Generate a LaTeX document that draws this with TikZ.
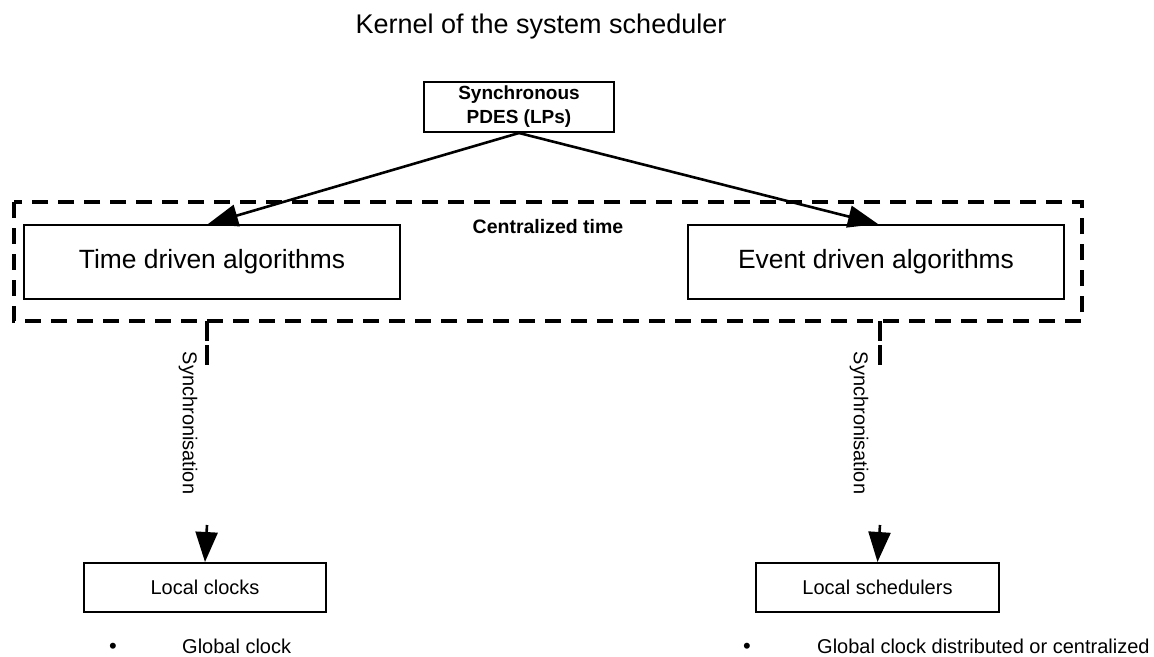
\documentclass[tikz,border=0pt]{standalone}
\usepackage{fontspec}
\setmainfont{Liberation Sans}
\usetikzlibrary{arrows.meta}
\begin{document}
\begin{tikzpicture}[x=1pt,y=-1pt,
  boxs/.style={draw,line width=2pt,inner sep=0pt,anchor=north west},
  arr/.style={line width=2.6pt,-{Triangle[length=30pt,width=22pt]}},
  dsh/.style={line width=3.2pt,dash pattern=on 16pt off 10pt},
  lbl/.style={font=\fontsize{20}{24}\selectfont},
]
\useasboundingbox (0,0) rectangle (1154,656);
\node[font=\fontsize{27}{32}\selectfont,anchor=base,inner sep=0pt] (title) at (541,33) {Kernel of the system scheduler};
\node[boxs,minimum width=190pt,minimum height=50pt,align=center,font=\fontsize{19}{24}\selectfont\bfseries] (pdes) at (423,81) {Synchronous\\PDES (LPs)};
\draw[dsh] (14,202) rectangle (1082,321);
\coordinate (dbl) at (207,321);
\coordinate (dbr) at (880,321);
\node[font=\fontsize{19.5}{24}\selectfont\bfseries] (ct) at (548,227) {Centralized time};
\node[boxs,minimum width=376pt,minimum height=74pt,font=\fontsize{26.4}{30}\selectfont] (tda) at (23,224) {Time driven algorithms};
\node[boxs,minimum width=376pt,minimum height=74pt,font=\fontsize{26.4}{30}\selectfont] (eda) at (687,224) {Event driven algorithms};
\draw[arr] (pdes.south) -- (208,224);
\draw[arr] (pdes.south) -- (878,224);
\node[boxs,minimum width=242pt,minimum height=49pt,lbl] (lc) at (83,562) {Local clocks};
\node[boxs,minimum width=243pt,minimum height=49pt,lbl] (ls) at (755,562) {Local schedulers};
\coordinate (ml) at (207,365);
\coordinate (al) at (207,525);
\coordinate (mr) at (880,365);
\coordinate (ar) at (880,525);
\draw[line width=3.2pt,dash pattern=on 20pt off 4pt] (dbl) -- (ml);
\draw[line width=3.2pt,dash pattern=on 20pt off 4pt] (dbr) -- (mr);
\draw[arr] (al) -- (lc.north);
\draw[arr] (ar) -- (ls.north);
\node[lbl,rotate=-90] (sl) at (188,423) {Synchronisation};
\node[lbl,rotate=-90] (sr) at (859,423) {Synchronisation};
\node[font=\fontsize{22}{24}\selectfont,anchor=base,inner sep=0pt] (b1) at (113,653) {•};
\node[lbl,anchor=base west,inner sep=0pt] (g1) at (182,653) {Global clock};
\node[font=\fontsize{22}{24}\selectfont,anchor=base,inner sep=0pt] (b2) at (747,653) {•};
\node[lbl,anchor=base west,inner sep=0pt] (g2) at (817,653) {Global clock distributed or centralized};
\end{tikzpicture}
\end{document}
